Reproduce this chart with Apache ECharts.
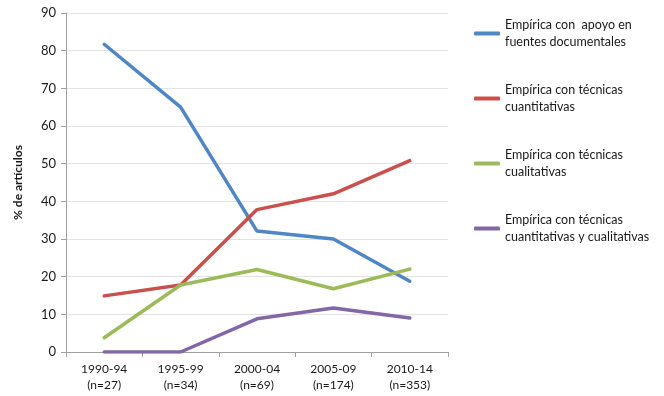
<!DOCTYPE html>
<html>
<head>
<meta charset="utf-8">
<script src="https://cdn.jsdelivr.net/npm/echarts@6/dist/echarts.min.js"></script>
<style>
html,body{margin:0;padding:0;background:#fff;}
#c{width:664px;height:396px;}
</style>
</head>
<body>
<div id="c"></div>
<script>
const categories = ['1990-94\n(n=27)', '1995-99\n(n=34)', '2000-04\n(n=69)', '2005-09\n(n=174)', '2010-14\n(n=353)'];
const seriesNames = [
  'Empírica con  apoyo en\nfuentes documentales',
  'Empírica con técnicas\ncuantitativas',
  'Empírica con técnicas\ncualitativas',
  'Empírica con técnicas\ncuantitativas y cualitativas'
];
const documentales = [81.7, 65.0, 32.1, 30.0, 18.8];
const cuantitativas = [14.9, 17.8, 37.8, 42.0, 50.8];
const cualitativas = [3.8, 17.8, 21.9, 16.8, 22.0];
const mixtas = [0, 0, 8.8, 11.7, 9.0];
const yTicks = {min: 0, max: 90, interval: 10};
const colors = ['#4F86C6', '#C9504C', '#9BBB59', '#8266A6'];

const chart = echarts.init(document.getElementById('c'), null, {renderer: 'canvas'});
const font = 'Lato, "Open Sans", sans-serif';
const allData = [documentales, cuantitativas, cualitativas, mixtas];
chart.setOption({
  animation: false,
  color: colors,
  textStyle: {fontFamily: font},
  grid: {left: 66, right: 216, top: 13, bottom: 44, containLabel: false},
  legend: {
    orient: 'vertical',
    left: 474,
    top: 8,
    padding: 0,
    itemGap: 14,
    itemWidth: 26,
    itemHeight: 4,
    icon: 'roundRect',
    data: seriesNames,
    textStyle: {fontFamily: font, fontSize: 12.5, color: '#1a1a1a', lineHeight: 17, padding: [17, 0, 0, 0]}
  },
  xAxis: {
    type: 'category',
    data: categories,
    boundaryGap: true,
    axisLine: {lineStyle: {color: '#a0a0a0', width: 1}},
    axisTick: {show: true, length: 5, lineStyle: {color: '#a0a0a0'}},
    axisLabel: {fontFamily: font, fontSize: 12, color: '#1a1a1a', lineHeight: 16, margin: 9}
  },
  yAxis: {
    type: 'value',
    min: yTicks.min, max: yTicks.max, interval: yTicks.interval,
    name: '% de artículos',
    nameLocation: 'middle',
    nameGap: 42,
    nameRotate: 90,
    nameTextStyle: {fontFamily: font, fontSize: 12, fontWeight: 'bold', color: '#1a1a1a'},
    axisLine: {show: true, lineStyle: {color: '#a0a0a0', width: 1}},
    axisTick: {show: true, length: 5, lineStyle: {color: '#a0a0a0'}},
    axisLabel: {fontFamily: font, fontSize: 13, color: '#1a1a1a', margin: 10},
    splitLine: {show: true, lineStyle: {color: '#e3e3e3', width: 1}}
  },
  series: seriesNames.map((n, i) => ({
    name: n,
    type: 'line',
    data: allData[i],
    showSymbol: false,
    symbol: 'none',
    lineStyle: {width: 3.5, color: colors[i], cap: 'round', join: 'round'},
    itemStyle: {color: colors[i]}
  }))
});
</script>
</body>
</html>
